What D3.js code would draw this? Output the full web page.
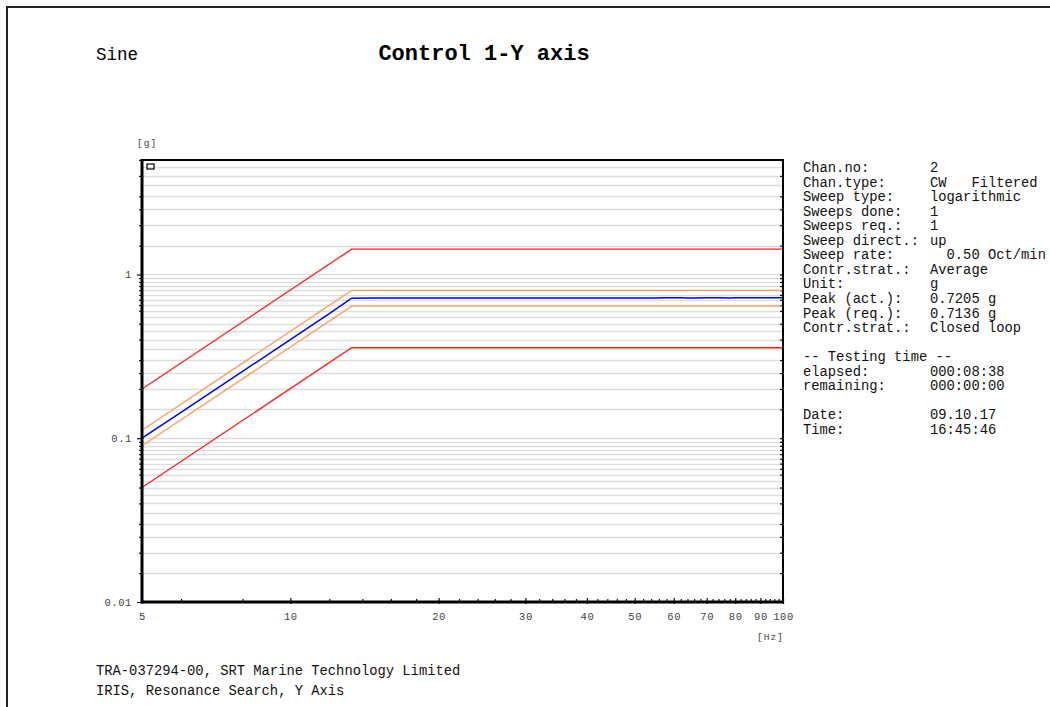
<!DOCTYPE html>
<html>
<head>
<meta charset="utf-8">
<script src="https://cdn.jsdelivr.net/npm/d3@7"></script>
<style>
  body { margin: 0; background: #fff; }
  text { font-family: "Liberation Mono", "DejaVu Sans Mono", monospace; }
</style>
</head>
<body>
<svg></svg>
<script>
let width = 1050;
let height = 707;

// profile breakpoints (Hz)
let profileFreq = [5, 13.32, 100];
let abortUpper = [0.2, 1.427, 1.427];
let alarmUpper = [0.112, 0.8, 0.8];
let alarmLower = [0.09, 0.64, 0.64];
let abortLower = [0.05, 0.357, 0.357];

// measured control signal
let controlFreq = [5, 6, 8, 10, 12, 13.32, 15, 20, 25, 30, 35, 40, 45, 50, 55, 58, 60, 62, 64, 66, 70, 74, 78, 80, 82, 86, 88, 90, 92, 95, 98, 100];
let controlAccel = [0.1, 0.144, 0.256, 0.4, 0.576, 0.717, 0.718, 0.719, 0.718, 0.718, 0.719, 0.718, 0.718, 0.719, 0.719, 0.721, 0.722, 0.72, 0.719, 0.719, 0.72, 0.721, 0.719, 0.72, 0.721, 0.722, 0.72, 0.721, 0.722, 0.722, 0.72, 0.721];

let xMajor = [5, 10, 20, 30, 40, 50, 60, 70, 80, 90, 100];
let xMinor = [6, 8, 12, 14, 16, 18, 22, 24, 26, 28, 32, 34, 36, 38, 42, 44, 46, 48, 52, 54, 56, 58, 62, 64, 66, 68, 72, 74, 76, 78, 82, 84, 86, 88, 92, 94, 96, 98];
let yMajor = [0.01, 0.1, 1];
let yMajorLabels = ['0.01', '0.1', '1'];
let yMinorMant = [1.5, 2, 2.5, 3, 4, 5, 6, 6.5, 7, 7.5, 8, 8.5, 9, 9.5];
let yGridMant = [1.5, 2, 2.5, 3, 3.5, 4, 4.5, 5, 5.5, 6, 6.5, 7, 7.5, 8, 8.5, 9, 9.5];

let infoLabels = ['Chan.no:', 'Chan.type:', 'Sweep type:', 'Sweeps done:', 'Sweeps req.:', 'Sweep direct.:', 'Sweep rate:', 'Contr.strat.:', 'Unit:', 'Peak (act.):', 'Peak (req.):', 'Contr.strat.:', '', '-- Testing time --', 'elapsed:', 'remaining:', '', 'Date:', 'Time:'];
let infoValues = ['2', 'CW   Filtered', 'logarithmic', '1', '1', 'up', '  0.50 Oct/min', 'Average', 'g', '0.7205 g', '0.7136 g', 'Closed loop', '', '', '000:08:38', '000:00:00', '', '09.10.17', '16:45:46'];

let footer = ['TRA-037294-00, SRT Marine Technology Limited', 'IRIS, Resonance Search, Y Axis'];

let svg = d3.select('svg')
            .attr('width', width)
            .attr('height', height);

// page frame
svg.append('path')
   .attr('d', 'M7,' + height + 'V7H' + width)
   .attr('fill', 'none')
   .attr('stroke', '#222')
   .attr('stroke-width', 2);

svg.append('text').attr('x', 96).attr('y', 60)
   .attr('font-size', 17.5).text('Sine');
svg.append('text').attr('x', 484).attr('y', 60)
   .attr('text-anchor', 'middle')
   .attr('font-size', 22).attr('font-weight', 'bold')
   .text('Control 1-Y axis');

let pLeft = 142, pRight = 783, pTop = 160, pBottom = 602;

let x = d3.scaleLog().domain([5, 100]).range([pLeft, pRight]);
let y = d3.scaleLog().domain([0.01, 5]).range([pBottom, pTop]);

let decades = [0.01, 0.1, 1];
let gridVals = [];
let minorVals = [];
decades.forEach(function(d) {
  yGridMant.forEach(function(m) { if (m * d <= 5.001) gridVals.push(m * d); });
  yMinorMant.forEach(function(m) { if (m * d <= 5.001) minorVals.push(m * d); });
});

// horizontal grid
svg.append('g')
   .selectAll('line')
   .data(gridVals.concat([1, 0.1]))
   .enter()
   .append('line')
   .attr('x1', pLeft).attr('x2', pRight)
   .attr('y1', function(d) { return Math.round(y(d)) + 0.5; })
   .attr('y2', function(d) { return Math.round(y(d)) + 0.5; })
   .attr('stroke', '#dedede')
   .attr('stroke-width', 1.3);

// y axis left, minor ticks outward
let yAxisMinor = d3.axisLeft(y).tickValues(minorVals).tickSize(3).tickFormat('');
svg.append('g').attr('transform', 'translate(' + pLeft + ',0)').call(yAxisMinor);
let yAxisMajor = d3.axisLeft(y).tickValues(yMajor).tickSize(5)
                   .tickFormat(function(d, i) { return yMajorLabels[i]; });
let yg = svg.append('g').attr('transform', 'translate(' + pLeft + ',0)').call(yAxisMajor);
yg.selectAll('text').attr('x', -10);

// right side inward ticks
svg.append('g').attr('transform', 'translate(' + pRight + ',0)')
   .call(d3.axisLeft(y).tickValues(minorVals.concat(yMajor)).tickSize(3).tickFormat(''));

// x axis
let xAxisMinor = d3.axisTop(x).tickValues(xMinor).tickSize(3).tickFormat('');
svg.append('g').attr('transform', 'translate(0,' + pBottom + ')').call(xAxisMinor);
let xAxisMajor = d3.axisBottom(x).tickValues(xMajor).tickSize(2).tickFormat(d3.format('d'));
let xg = svg.append('g').attr('transform', 'translate(0,' + pBottom + ')').call(xAxisMajor);
xg.selectAll('text').attr('y', 11);
svg.append('g').attr('transform', 'translate(0,' + pBottom + ')')
   .call(d3.axisTop(x).tickValues(xMajor).tickSize(4).tickFormat(''));

svg.selectAll('.tick line').attr('stroke', '#111').attr('stroke-width', 1.2);
svg.selectAll('.domain').remove();
svg.selectAll('.tick text')
   .attr('font-family', '"DejaVu Sans Mono", monospace')
   .attr('font-size', 10.5)
   .attr('letter-spacing', 0.6)
   .attr('fill', '#444');

svg.append('text').attr('x', 137).attr('y', 146)
   .attr('font-family', '"DejaVu Sans Mono", monospace')
   .attr('font-size', 9.5).attr('fill', '#444').attr('letter-spacing', 1).text('[g]');
svg.append('text').attr('x', 757).attr('y', 640)
   .attr('font-family', '"DejaVu Sans Mono", monospace')
   .attr('font-size', 9.5).attr('fill', '#444').attr('letter-spacing', 1).text('[Hz]');

// profile lines
let line = d3.line()
             .x(function(d) { return x(d[0]); })
             .y(function(d) { return y(d[1]); });

function pairs(fs, vs) { return fs.map(function(f, i) { return [f, vs[i]]; }); }

let profiles = [
  { v: abortUpper, c: '#ff2020' },
  { v: abortLower, c: '#ff2020' },
  { v: alarmUpper, c: '#ff9a60' },
  { v: alarmLower, c: '#ff9a60' }
];

svg.append('g')
   .selectAll('path')
   .data(profiles)
   .enter()
   .append('path')
   .attr('d', function(d) { return line(pairs(profileFreq, d.v)); })
   .attr('fill', 'none')
   .attr('stroke', function(d) { return d.c; })
   .attr('stroke-width', 1.3);

svg.append('path')
   .attr('d', line(pairs(controlFreq, controlAccel)))
   .attr('fill', 'none')
   .attr('stroke', '#0000ee')
   .attr('stroke-width', 1.5);

// plot frame
svg.append('path')
   .attr('d', 'M' + pLeft + ',' + pTop + 'H' + pRight + 'V' + pBottom)
   .attr('fill', 'none').attr('stroke', '#000').attr('stroke-width', 2);
svg.append('path')
   .attr('d', 'M' + pLeft + ',' + (pTop - 1) + 'V' + pBottom + 'H' + (pRight + 1))
   .attr('fill', 'none').attr('stroke', '#000').attr('stroke-width', 3);

// little marker box
svg.append('rect').attr('x', 147).attr('y', 164).attr('width', 7).attr('height', 5)
   .attr('fill', 'none').attr('stroke', '#000').attr('stroke-width', 1.2);

// info panel
let info = svg.append('g').attr('font-size', 13.8).attr('fill', '#111');
info.selectAll('.lab')
    .data(infoLabels)
    .enter()
    .append('text')
    .attr('class', 'lab')
    .attr('x', 803)
    .attr('y', function(d, i) { return 172 + i * 14.55; })
    .style('white-space', 'pre')
    .text(function(d) { return d; });
info.selectAll('.val')
    .data(infoValues)
    .enter()
    .append('text')
    .attr('class', 'val')
    .attr('x', 930)
    .attr('y', function(d, i) { return 172 + i * 14.55; })
    .style('white-space', 'pre')
    .text(function(d) { return d; });

svg.append('g').attr('font-size', 13.8).attr('fill', '#111')
   .selectAll('text')
   .data(footer)
   .enter()
   .append('text')
   .attr('x', 96)
   .attr('y', function(d, i) { return 675 + i * 20; })
   .text(function(d) { return d; });
</script>
</body>
</html>
